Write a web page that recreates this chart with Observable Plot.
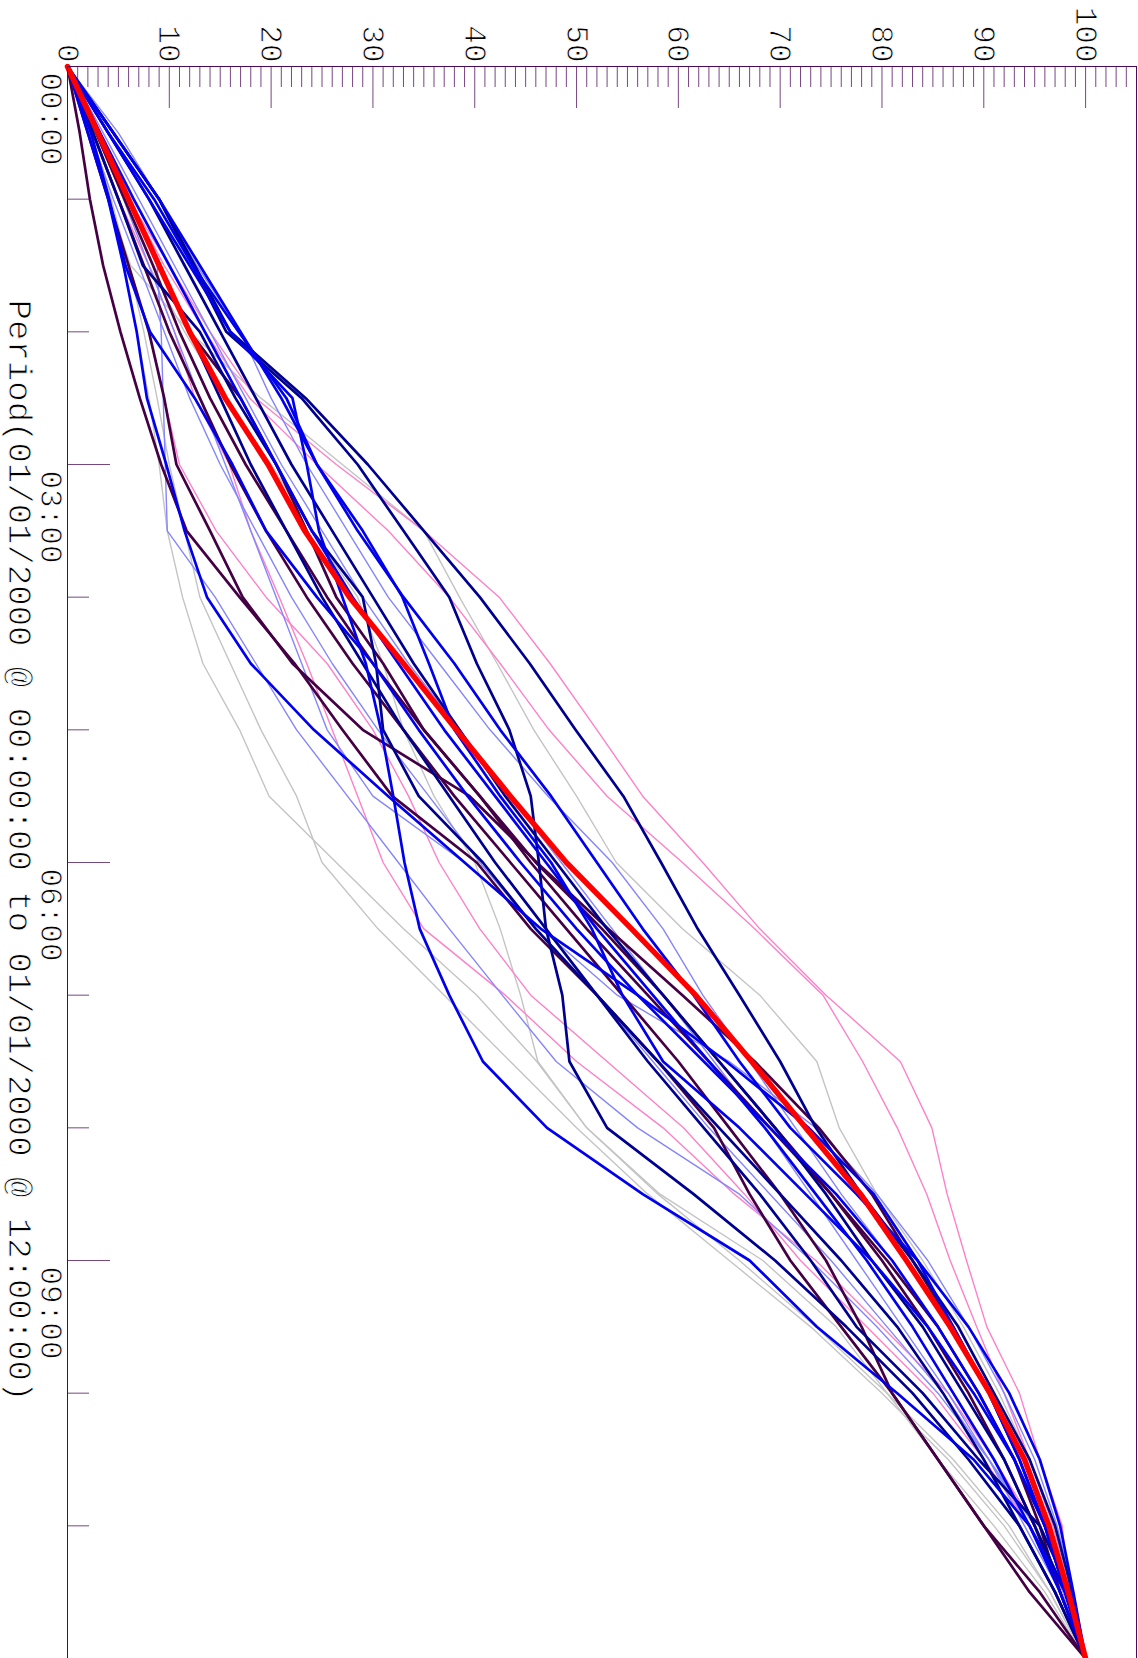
<!DOCTYPE html>
<html><head><meta charset="utf-8">
<script src="https://cdn.jsdelivr.net/npm/d3@7"></script>
<script src="https://cdn.jsdelivr.net/npm/@observablehq/plot@0.6"></script>
<style>
html,body{margin:0;padding:0;background:#fff;}
#wrap{position:relative;width:1138px;height:1658px;overflow:hidden;}
#chart{position:absolute;left:0;top:0;width:1658px;height:1138px;transform-origin:0 0;transform:translate(1138px,0) rotate(90deg);}
#chart svg{max-width:none !important;width:1658px !important;height:1138px !important;display:block;}
</style></head><body><div id="wrap"><div id="chart"></div></div>
<script>
// time grid (hours since 00:00)
const hours = [0,0.5,1,1.5,2,2.5,3,3.5,4,4.5,5,5.5,6,6.5,7,7.5,8,8.5,9,9.5,10,10.5,11,11.5,12];
// axis ticks and labels
const yTicks = [0,10,20,30,40,50,60,70,80,90,100];
const xTicks = [0,3,6,9];
const xLabels = ["00:00","03:00","06:00","09:00"];
const xMinorTicks = [1,2,4,5,7,8,10,11];
const title = "Period(01/01/2000 @ 00:00:00 to 01/01/2000 @ 12:00:00)";

// series (cumulative %)
const mean   = [0,3.0,6.0,9.0,12.0,15.5,19.7,23.3,27.7,33.0,38.2,43.5,49.0,55.4,61.7,67.2,72.5,77.9,82.4,86.7,90.6,94.0,96.4,98.3,100];
const navyA  = [0,4.5,9,12.3,15.6,23,28.5,33,37.5,40.2,43.4,45.5,46.3,47,48.6,49.3,53,61.5,69.5,76.5,83,88.5,93.5,97,100];
const navyB  = [0,4.5,9,12.5,16,23.4,29.5,35,40.5,45.4,49.9,54.6,58.3,61.9,66.0,70.0,73.5,78,83,87.5,91,94.5,97,98.7,100];
const navyC  = [0,2.5,5,7.4,13,16.5,20.5,24,29,30.3,31,34.5,40.8,46,52,58,64,70,76,81.5,86,90,93.5,97,100];
const navyD  = [0,3,6,9,12,15,18,21.5,25,29,33,37.5,42,47,52,57,62.5,68,73,77.5,84,89.5,95.5,98.5,100];
const navyE  = [0,4,8,11.5,15,18.5,22,26,30,34,38.5,43,48,53,58.5,64,69.5,74.5,79,84,88,92,95,98,100];
const blueA  = [0,4,8,12,16,22.1,23.5,24.7,27,29.3,30.8,32,33.1,34.6,37.5,40.8,47.1,56.5,67,73.6,81.5,89,94.5,98,100];
const blueB  = [0,2,4,5.5,6.8,7.8,9.7,11.5,13.7,18,24.2,31.5,39,46.5,56,64.7,72.8,79.2,83.5,87,90.5,93.5,96,98,100];
const blueC  = [0,2.3,4.1,5.7,8.1,12.5,16.2,19.5,24.5,30,34.5,39.3,44.5,50,56,62.5,69,75.5,81,85.5,89.5,93,96,98,100];
const blueD  = [0,4.5,9,13,17,21,24.5,29,32.9,35.5,38,42.5,47.5,51.5,54.5,58.5,66,72.5,79,84.5,89,93,96,98.5,100];
const blueE  = [0,4,8.5,12.3,16.8,21.5,24.5,28.5,33,38,42.5,47.5,52,56.5,61.5,66,71,77.5,83.5,88.5,92.5,95.5,97.5,98.8,100];
const blueF  = [0,3.2,6.5,10,13.5,17,20.5,24,28,32.5,37,42,47,52,57.5,63,68.5,73.5,78.5,83,87,91,94.5,97.5,100];
const maroonA = [0,1.2,2.2,3.5,5.2,7.1,9.2,11.7,16.9,22.3,27,31.9,40.2,45.5,52,58,63.5,67,71,76,81,85.5,90,94.5,100];
const maroonB = [0,2,4,6,8,9.5,10.7,14,17.2,22.1,29,39.5,46.1,53.1,60.4,67.5,73.8,79,83,87,90.5,93.5,96,98,100];
const maroonC = [0,3,6,9,12,17,20.5,23.5,26.4,31,35,40.5,45.5,51,57,63,69,75,80.5,85.5,89.5,93,95.5,97.5,100];
const maroonD = [0,2.8,5.6,8.4,11,14,17.5,21.5,25.5,30,35,40.5,46,52.5,58.5,64,69.5,75,80,84.5,88.5,92,95,97.5,100];
const maroonE = [0,2.5,5,7.5,10,13,16,19.5,23.5,28,33,38,43.5,49,54.5,60,65,70,74.5,78,81,85.5,90,95.5,100];
const lightA = [0,3,6,8.8,9.2,9.4,9.6,9.8,14.5,18.5,22.5,27.5,32.5,37.5,42.7,48,56,66,73,79.5,85.5,90.5,95,97.8,100];
const lightB = [0,2.8,5.5,8,10.5,13,15.5,18,20.5,23,25.5,30,39,46.5,54,65,73.5,79.5,84.5,88.5,92,95,97.2,98.8,100];
const lightC = [0,5,9,12.7,17,20,23.5,27.5,31.5,36.5,41.5,47.2,53.5,58.5,62.4,67,71.5,76,81,85.5,89.5,93,96,98,100];
const lightD = [0,2.2,4.5,7,9.5,12,15,18.5,22,26,30.5,35.5,40.5,46,52,57.5,63,69,75,80.5,86,90.5,94.5,97.5,100];
const lightE = [0,3.5,7,10.5,14,17.5,21,25,29,33.5,38.5,43.5,48.5,53.5,58.5,63.5,68.5,73,77.5,82,86.5,90.5,94,97.5,100];
const pinkA  = [0,3,6,10,14,18.5,26.4,35,42.4,47.4,52,56.5,62.4,68,74.5,81.8,84.9,86.4,88.3,90.3,93.5,95.5,97.7,98.4,100];
const pinkB  = [0,3,6,9.5,13.5,17.9,24.5,31.5,37.5,42.5,47.3,53,60.4,67.5,74.2,78.1,81.5,84.4,86.7,89.3,92,94.5,96.8,98.5,100];
const pinkC  = [0,2.5,5,8,10.5,12.5,15.9,18,20.8,23.5,26,28.5,31,35,43,50,58.5,65.5,73.5,80,86.5,91,95,97.8,100];
const pinkD  = [0,2,4,6,8,9.5,11,14.6,19.5,25.5,30,33.5,36.5,40.5,45.5,53,60.5,66.5,72,78.5,85,90,94.5,97.5,100];
const grayA  = [0,2,4,6.2,12,19,27,35,38.5,42.2,45.8,50,53.9,60.4,68,73.6,75.8,79.5,84,88,91.5,94.5,97,98.7,100];
const grayB  = [0,2,4,5.5,6.8,8,9,9.8,11.3,13.3,16.9,19.8,26.4,33,40.2,46.1,51,58.2,68.3,75.5,80.5,85.5,91,96,100];
const grayC  = [0,2.2,4.3,6,7.5,8.8,10,11.5,13,16,19,22.5,25,30.5,37,43.5,50,57,65,73,80,86.5,92,96.5,100];
const grayD  = [0,2.5,5,8,11.5,15.5,20,24,28.5,31,33,36,40,42.5,44.5,46.2,51,58,66,73.5,80.5,87,92.5,96.5,100];

const series = [
  ["grayA","gray",grayA],["grayB","gray",grayB],["grayC","gray",grayC],["grayD","gray",grayD],
  ["pinkA","pink",pinkA],["pinkB","pink",pinkB],["pinkC","pink",pinkC],["pinkD","pink",pinkD],
  ["lightA","light",lightA],["lightB","light",lightB],["lightC","light",lightC],["lightD","light",lightD],["lightE","light",lightE],
  ["maroonA","maroon",maroonA],["maroonB","maroon",maroonB],["maroonC","maroon",maroonC],["maroonD","maroon",maroonD],["maroonE","maroon",maroonE],
  ["navyA","navy",navyA],["navyB","navy",navyB],["navyC","navy",navyC],["navyD","navy",navyD],["navyE","navy",navyE],
  ["blueA","blue",blueA],["blueB","blue",blueB],["blueC","blue",blueC],["blueD","blue",blueD],["blueE","blue",blueE],["blueF","blue",blueF],
  ["mean","mean",mean]
];
const styles = {
  gray:   {stroke:"#c4c4c4", w:1.4},
  pink:   {stroke:"#ff80c8", w:1.4},
  light:  {stroke:"#8585ff", w:1.4},
  maroon: {stroke:"#440044", w:2.7},
  navy:   {stroke:"#000090", w:2.7},
  blue:   {stroke:"#0000ee", w:2.7},
  mean:   {stroke:"#ff0000", w:5.5}
};
const rows = [];
for (const [id, group, vals] of series) vals.forEach((v, i) => rows.push({id, group, t: hours[i], v}));

const W = 1658, H = 1138, ML = 66, MR = 0, MT = 1, MB = 68;
const innerW = W - ML - MR, innerH = H - MT - MB;
const axisColor = "#4a0a55";
const yMinor = d3.range(1, 105).filter(d => d % 10 !== 0);
const thinText = {fill: "#000", stroke: "white", strokeWidth: 0.9, paintOrder: "fill"};

const lineMarks = ["gray","pink","light","maroon","navy","blue","mean"].map(g =>
  Plot.line(rows.filter(r => r.group === g), {x: "t", y: "v", z: "id", stroke: styles[g].stroke, strokeWidth: styles[g].w}));

const chart = Plot.plot({
  width: W, height: H, marginLeft: ML, marginRight: MR, marginTop: MT, marginBottom: MB,
  x: {domain: [0, 12], axis: null},
  y: {domain: [0, 105], axis: null},
  style: {fontFamily: "'Liberation Mono', monospace", fontSize: "31px", color: "#000", background: "#fff", overflow: "visible"},
  marks: [
    Plot.tickY(yMinor, {y: d => d, stroke: axisColor, strokeOpacity: 0.75, insetRight: innerW - 21}),
    Plot.tickY(yTicks, {y: d => d, stroke: axisColor, strokeOpacity: 0.75, insetRight: innerW - 42}),
    Plot.tickX(xMinorTicks, {x: d => d, stroke: axisColor, strokeOpacity: 0.75, insetTop: innerH - 21}),
    Plot.tickX(xTicks, {x: d => d, stroke: axisColor, strokeOpacity: 0.75, insetTop: innerH - 42}),
    ...lineMarks,
    Plot.frame({stroke: axisColor}),
    Plot.text(yTicks, {y: d => d, text: d => String(d), frameAnchor: "left", dx: -4, textAnchor: "end", lineAnchor: "middle", fontSize: 31, ...thinText}),
    Plot.text(xTicks, {x: d => d, text: d => xLabels[xTicks.indexOf(d)], frameAnchor: "bottom", dy: 4, dx: 6, textAnchor: "start", lineAnchor: "top", fontSize: 31, ...thinText}),
    Plot.text([title], {text: d => d, frameAnchor: "bottom", dy: 48, dx: -12, lineAnchor: "middle", fontSize: 34, ...thinText})
  ]
});
document.getElementById("chart").appendChild(chart);
</script></body></html>
